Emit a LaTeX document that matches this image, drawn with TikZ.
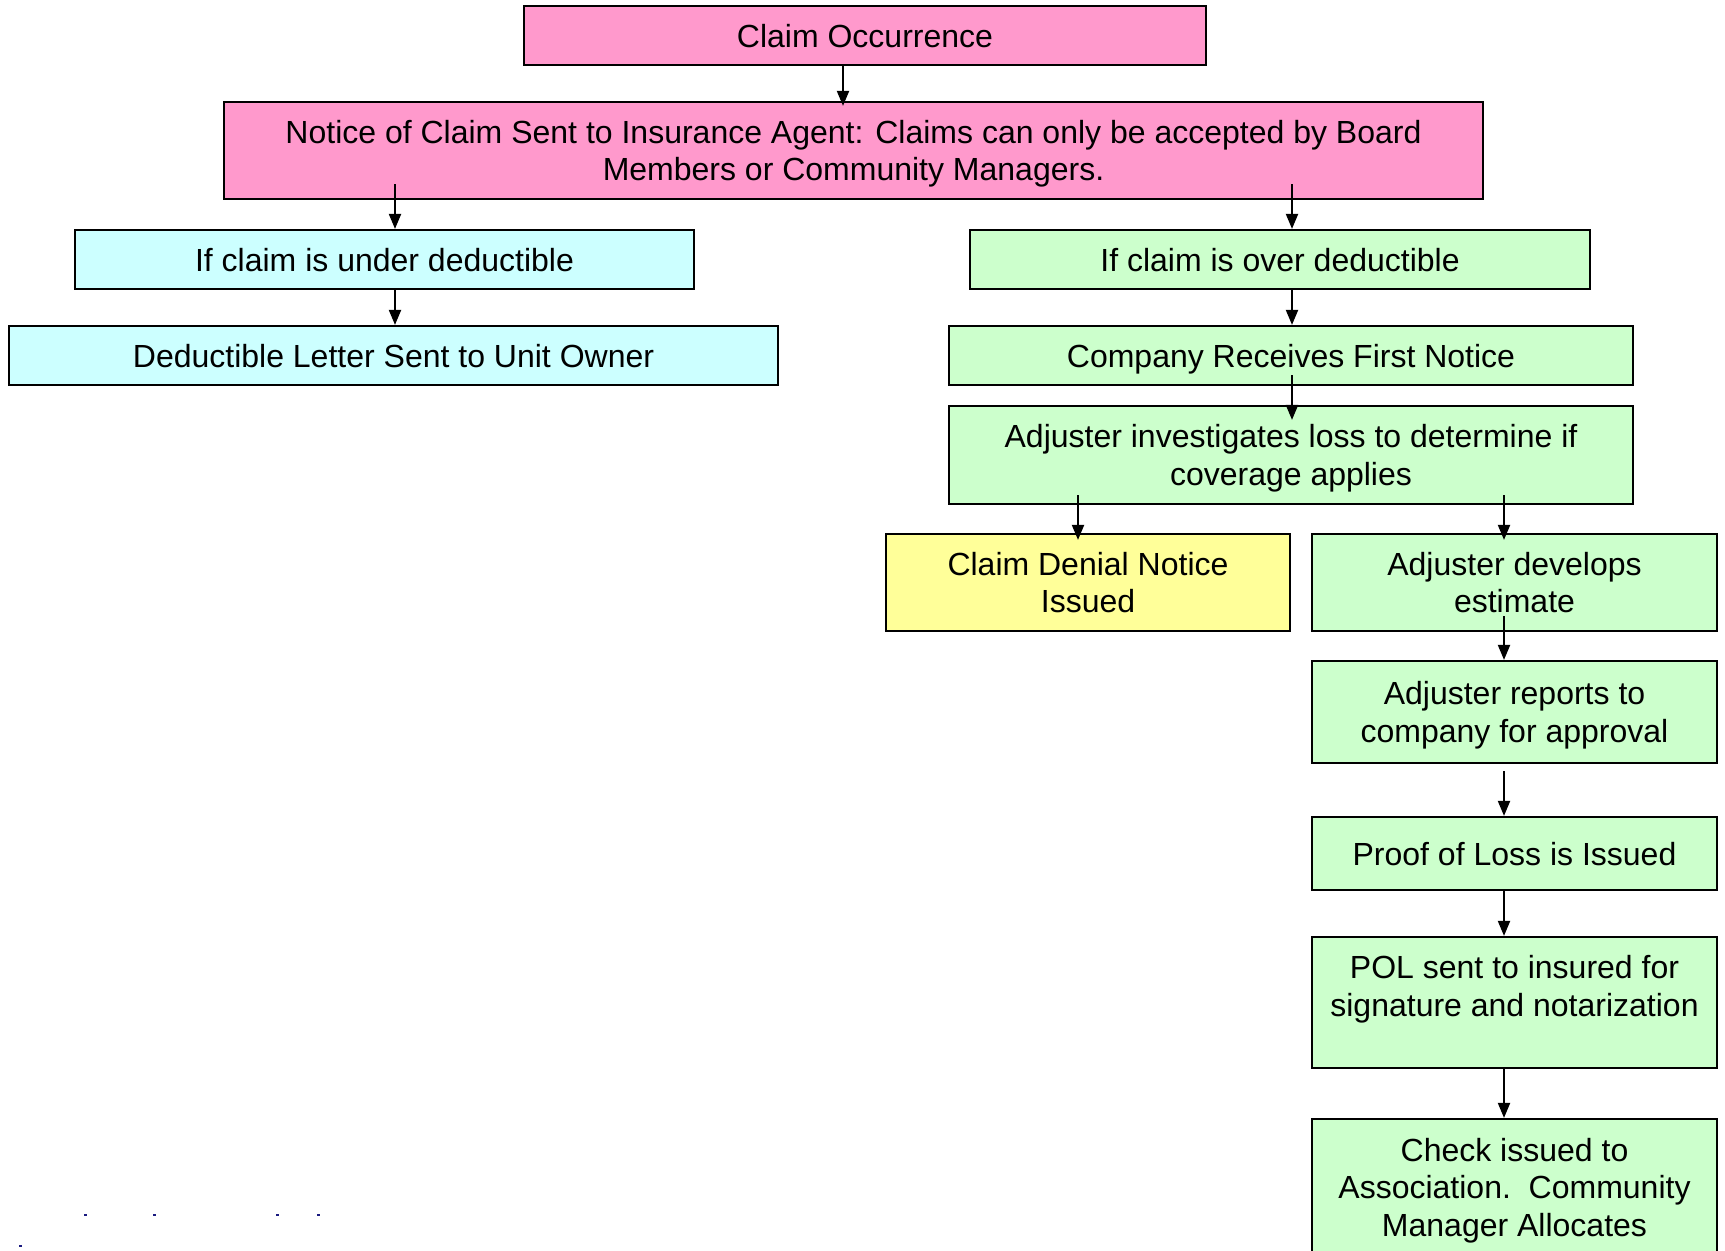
\documentclass[tikz,border=0pt]{standalone}
\usepackage{fontspec}
\setmainfont{Liberation Sans}
\usetikzlibrary{arrows.meta}
\definecolor{pinkbox}{HTML}{FF99CC}
\definecolor{cyanbox}{HTML}{CCFFFF}
\definecolor{greenbox}{HTML}{CCFFCC}
\definecolor{yellowbox}{HTML}{FFFF99}
\definecolor{speck}{HTML}{1A1A80}
\begin{document}
\begin{tikzpicture}[x=0.5pt,y=-0.5pt,
  box/.style={draw=black, line width=1.1pt, inner sep=0pt, align=center, text depth=0pt,
    font=\fontsize{16}{18.7}\selectfont},
  sz/.style 2 args={minimum width=#1*0.5pt, minimum height=#2*0.5pt},
  txt/.style={inner sep=0pt, align=center, text depth=0pt, font=\fontsize{16}{18.7}\selectfont},
  arr/.style={-{Triangle[length=7.5pt,width=6pt]}, line width=1pt}]
\useasboundingbox (0,0) rectangle (1725,1250);

% boxes
\node[box, fill=pinkbox, sz={682}{59}] (occ) at (865,35.5) {Claim Occurrence};
\node[box, fill=pinkbox, sz={1259}{97}] (notice) at (853.5,150.5)
  {Notice of Claim Sent to Insurance Agent: Claims can only be accepted by Board\\Members or Community Managers.};
\node[box, fill=cyanbox, sz={619}{59}] (under) at (384.5,259.5) {If claim is under deductible};
\node[box, fill=cyanbox, sz={769}{59}] (letter) at (393.5,355.5) {Deductible Letter Sent to Unit Owner};
\node[box, fill=greenbox, sz={620}{59}] (over) at (1280,259.5) {If claim is over deductible};
\node[box, fill=greenbox, sz={684}{59}] (company) at (1291,355.5) {Company Receives First Notice};
\node[box, fill=greenbox, sz={684}{98}] (invest) at (1291,455)
  {Adjuster investigates loss to determine if\\coverage applies};
\node[box, fill=yellowbox, sz={404}{97}] (denial) at (1088,582.5) {Claim Denial Notice\\Issued};
\node[box, fill=greenbox, sz={405}{97}] (develop) at (1514.5,582.5) {Adjuster develops\\estimate};
\node[box, fill=greenbox, sz={405}{102}] (reports) at (1514.5,712) {Adjuster reports to\\company for approval};
\node[box, fill=greenbox, sz={405}{73}] (proof) at (1514.5,853.5) {Proof of Loss is Issued};
\node[box, fill=greenbox, sz={405}{131}] (pol) at (1514.5,1002.5) {};
\node[txt] (poltxt) at (1514.5,986) {POL sent to insured for\\signature and notarization};
\node[box, fill=greenbox, sz={405}{136}] (check) at (1514.5,1187)
  {Check issued to\\Association.\ \ Community\\Manager Allocates};

% connector columns
\coordinate (cTop) at (843,0);
\coordinate (cL) at (395,0);
\coordinate (cR) at (1292,0);
\coordinate (cD) at (1078,0);
\coordinate (cE) at (1504,0);

% connectors
\draw[arr] (occ.south -| cTop) -- ([yshift=-2.5pt]notice.north -| cTop);
\draw[arr] ([yshift=8pt]notice.south -| cL) -- (under.north -| cL);
\draw[arr] ([yshift=8pt]notice.south -| cR) -- (over.north -| cR);
\draw[arr] (under.south -| cL) -- (letter.north -| cL);
\draw[arr] (over.south -| cR) -- (company.north -| cR);
\draw[arr] ([yshift=5.5pt]company.south -| cR) -- ([yshift=-7.5pt]invest.north -| cR);
\draw[arr] ([yshift=5pt]invest.south -| cD) -- ([yshift=-3.5pt]denial.north -| cD);
\draw[arr] ([yshift=5pt]invest.south -| cE) -- ([yshift=-3.5pt]develop.north -| cE);
\draw[arr] ([yshift=8pt]develop.south -| cE) -- (reports.north -| cE);
\draw[arr] ([yshift=-3.5pt]reports.south -| cE) -- (proof.north -| cE);
\draw[arr] (proof.south -| cE) -- (pol.north -| cE);
\draw[arr] (pol.south -| cE) -- (check.north -| cE);

% small specks near the lower left corner
\foreach \px/\py in {85/1215, 154/1215, 277/1215, 318/1215, 20/1246}
  \fill[speck] (\px-1.5,\py-1) rectangle (\px+1.5,\py+1);
\end{tikzpicture}
\end{document}
